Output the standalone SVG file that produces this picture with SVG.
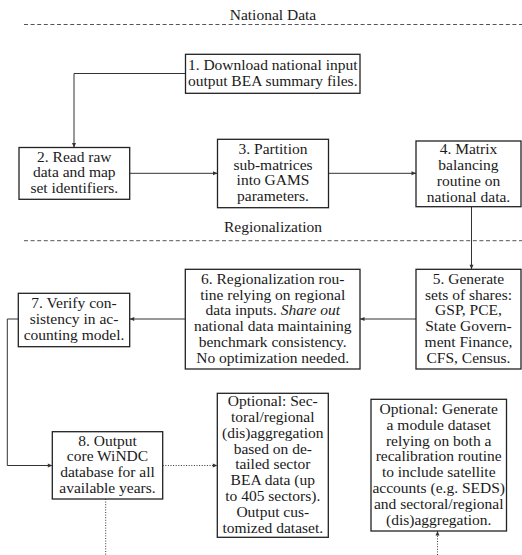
<svg xmlns="http://www.w3.org/2000/svg" width="522" height="555" viewBox="0 0 522 555">
<style>
text{font-family:"Liberation Serif","Times New Roman",serif;font-size:15.5px;fill:#1a1a1a;text-anchor:middle}
.box{fill:#fff;stroke:#222;stroke-width:1.3}
.sep{stroke:#555;stroke-width:1;stroke-dasharray:4 2.6;fill:none}
.c{fill:none;stroke:#333;stroke-width:1}
.d{fill:none;stroke:#333;stroke-width:1;stroke-dasharray:1 1.6}
</style>
<defs>
<marker id="ah" markerUnits="userSpaceOnUse" markerWidth="6" markerHeight="6" refX="5" refY="3" orient="auto">
<path d="M0.5,1 L5,3 L0.5,5 Z" fill="#333"/>
</marker>
</defs>
<g id="sections">
<text x="273" y="19.5">National Data</text>
<path class="sep" d="M24,24.5 H522"/>
<text x="273" y="232">Regionalization</text>
<path class="sep" d="M24,240.7 H522"/>
</g>
<g id="connectors">
<path class="c" d="M185.5,73.5 H74 V147.5" marker-end="url(#ah)"/>
<path class="c" d="M129.7,173.3 H217.5" marker-end="url(#ah)"/>
<path class="c" d="M328.5,173.3 H416" marker-end="url(#ah)"/>
<path class="c" d="M471.5,206.7 V269.3" marker-end="url(#ah)"/>
<path class="c" d="M416,319 H360" marker-end="url(#ah)"/>
<path class="c" d="M185.3,319 H129.7" marker-end="url(#ah)"/>
<path class="c" d="M18.3,319 H7.3 V465.5 H52.3" marker-end="url(#ah)"/>
<path class="d" d="M162.7,465.5 H217.3" marker-end="url(#ah)"/>
<path class="d" d="M105.7,499 V555"/>
<path class="d" d="M437.5,555 V531" marker-end="url(#ah)"/>
</g>
<g id="n1">
<rect class="box" x="185.5" y="54.3" width="174.5" height="39"/>
<text x="272.7" y="69.9">1. Download national input</text>
<text x="272.7" y="85.7">output BEA summary files.</text>
</g>
<g id="n2">
<rect class="box" x="19" y="147.5" width="110.7" height="51.8"/>
<text x="74.3" y="161.6">2. Read raw</text>
<text x="74.3" y="177.4">data and map</text>
<text x="74.3" y="193.2">set identifiers.</text>
</g>
<g id="n3">
<rect class="box" x="217.5" y="139.3" width="111" height="68.4"/>
<text x="273" y="153.8">3. Partition</text>
<text x="273" y="169.6">sub-matrices</text>
<text x="273" y="185.4">into GAMS</text>
<text x="273" y="201.2">parameters.</text>
</g>
<g id="n4">
<rect class="box" x="416" y="141" width="105" height="65.7"/>
<text x="468.5" y="154.2">4. Matrix</text>
<text x="468.5" y="170">balancing</text>
<text x="468.5" y="185.8">routine on</text>
<text x="468.5" y="201.6">national data.</text>
</g>
<g id="n5">
<rect class="box" x="416" y="269.3" width="105" height="99.7"/>
<text x="468.5" y="283.7">5. Generate</text>
<text x="468.5" y="299.5">sets of shares:</text>
<text x="468.5" y="315.3">GSP, PCE,</text>
<text x="468.5" y="331.1">State Govern-</text>
<text x="468.5" y="346.9">ment Finance,</text>
<text x="468.5" y="362.7">CFS, Census.</text>
</g>
<g id="n6">
<rect class="box" x="185.3" y="269.3" width="174.7" height="99.7"/>
<text x="272.7" y="283.7">6. Regionalization rou-</text>
<text x="272.7" y="299.5">tine relying on regional</text>
<text x="272.7" y="315.3">data inputs. <tspan font-style="italic">Share out</tspan></text>
<text x="272.7" y="331.1">national data maintaining</text>
<text x="272.7" y="346.9">benchmark consistency.</text>
<text x="272.7" y="362.7">No optimization needed.</text>
</g>
<g id="n7">
<rect class="box" x="18.3" y="293.3" width="111.4" height="53.4"/>
<text x="74" y="308.2">7. Verify con-</text>
<text x="74" y="324">sistency in ac-</text>
<text x="74" y="339.8">counting model.</text>
</g>
<g id="n8">
<rect class="box" x="52.3" y="431.7" width="110.4" height="67.3"/>
<text x="107.5" y="445.6">8. Output</text>
<text x="107.5" y="461.4">core WiNDC</text>
<text x="107.5" y="477.2">database for all</text>
<text x="107.5" y="493">available years.</text>
</g>
<g id="opt1">
<rect class="box" x="217.3" y="393.3" width="111" height="144"/>
<text x="272.8" y="406.1">Optional: Sec-</text>
<text x="272.8" y="421.9">toral/regional</text>
<text x="272.8" y="437.7">(dis)aggregation</text>
<text x="272.8" y="453.5">based on de-</text>
<text x="272.8" y="469.3">tailed sector</text>
<text x="272.8" y="485.1">BEA data (up</text>
<text x="272.8" y="500.9">to 405 sectors).</text>
<text x="272.8" y="516.7">Output cus-</text>
<text x="272.8" y="532.5">tomized dataset.</text>
</g>
<g id="opt2">
<rect class="box" x="371" y="399.3" width="135.5" height="131.7"/>
<text x="438.7" y="413.9">Optional: Generate</text>
<text x="438.7" y="429.7">a module dataset</text>
<text x="438.7" y="445.5">relying on both a</text>
<text x="438.7" y="461.3">recalibration routine</text>
<text x="438.7" y="477.1">to include satellite</text>
<text x="438.7" y="492.9">accounts (e.g. SEDS)</text>
<text x="438.7" y="508.7">and sectoral/regional</text>
<text x="438.7" y="524.5">(dis)aggregation.</text>
</g>
</svg>
